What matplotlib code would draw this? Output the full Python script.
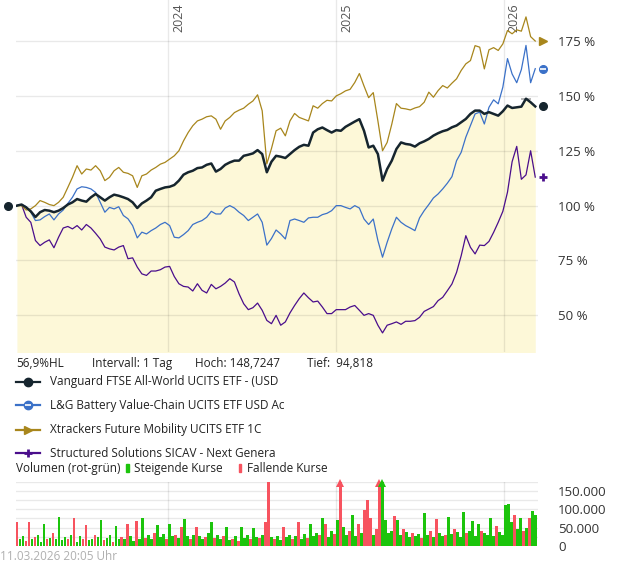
import numpy as np
import pandas as pd
import matplotlib
matplotlib.use('Agg')
import matplotlib.pyplot as plt
from matplotlib.lines import Line2D
from matplotlib.patches import Rectangle
from matplotlib.transforms import offset_copy

plt.rcParams['font.family'] = ['Open Sans', 'DejaVu Sans']

# performance in % (every ~10 days)
vanguard = [
    100, 100.5, 99.2, 97.4, 94.818, 97, 98, 97.7, 97, 97.7,
    98.9, 100.5, 101.5, 103, 102.3, 101.8, 103.8, 105.3, 103.8, 102.3,
    103.8, 105, 104.5, 103.8, 103, 101.5, 98.9, 101, 102.3, 103.8,
    106.8, 107.6, 108.3, 108.6, 109.4, 111.4, 114.1, 115.2, 115.9, 117.1,
    117.4, 118.6, 119.2, 115.5, 116.7, 118.6, 119.7, 120.5, 120.5, 122.7,
    123.2, 123.8, 125.3, 123.5, 115.2, 120, 122.7, 122.3, 121.7, 123.5,
    125.3, 126.8, 127.7, 127.3, 133.3, 134.8, 135.6, 134.4, 133.3, 134.4,
    134.1, 135.9, 137.1, 138.3, 139.4, 134.1, 126.5, 127.3, 123.5, 111.4,
    116.7, 120.5, 125.8, 128.8, 128.1, 127.8, 126.9, 128.4, 129.3, 130.4,
    131.9, 133, 133.9, 134.5, 135.7, 136.5, 138, 139.5, 141.8, 143.3,
    143.3, 141.8, 142.6, 141.8, 141, 143, 145.6, 144.5, 144.8, 145.1,
    148.7247, 147.1, 145.2]
battery = [
    100, 100.5, 99.5, 97, 93.2, 93.5, 95, 96.2, 93.5, 96.2,
    98, 101, 103.8, 107.6, 108.6, 108.3, 107.6, 106, 101.5, 97,
    99.2, 98.5, 99.5, 95.5, 94, 90.9, 85.3, 87.9, 87.1, 88.6,
    89.8, 91.4, 92.4, 90.9, 85.6, 85.3, 86.8, 88.6, 91.4, 92.4,
    93.2, 94.7, 97.4, 96.2, 96.2, 98.9, 100, 98.9, 97, 95.5,
    93.2, 94.7, 96.2, 92.4, 82, 85, 88.9, 87.1, 84.8, 93.2,
    93.9, 93.2, 92.4, 94.4, 94.7, 94.7, 95.9, 96.5, 97.7, 100,
    100, 99.2, 98.5, 100, 98.9, 93.9, 91.4, 93.9, 84.1, 76.5,
    83.3, 89.4, 94.7, 92.4, 90.9, 89.8, 88.6, 94.4, 97.7, 100.5,
    103.5, 105.3, 107.6, 110.2, 113.2, 120.5, 124.3, 131.2, 136.5, 141.8,
    142.6, 137.2, 144.8, 148.2, 146.4, 154, 167, 160, 156, 162,
    173, 156, 162.4]
mobility = [
    100, 100, 98, 98.5, 100, 102.3, 101.5, 100.5, 100, 101.5,
    103.8, 108.3, 112.9, 118.2, 114.4, 116.7, 116.2, 118.2, 115.9, 111.4,
    112.9, 115.9, 117.4, 115.2, 114.7, 113.6, 108.3, 113.6, 114.4, 116.2,
    117.4, 118.9, 119.7, 121.2, 122.7, 125, 129.5, 133.3, 136.4, 138.6,
    139.4, 140.5, 140.9, 139.4, 134.8, 138.6, 140.2, 142.4, 143.5, 144.4,
    146.2, 147.7, 150.5, 143.2, 119, 126, 134.1, 135.3, 131.8, 138.6,
    142, 140.2, 139.4, 138.6, 145.5, 144.4, 146.5, 148, 147.7, 150,
    151, 152.3, 153, 156.1, 160.2, 154.5, 149.2, 151.5, 138.6, 125,
    128.8, 137.1, 146.5, 144.4, 144.1, 143.6, 144.5, 145.1, 147.1, 151.7,
    149.4, 152.4, 154.7, 153.6, 155.8, 157.8, 161.6, 164.6, 166.1, 172.9,
    172.2, 162.3, 171, 172, 170.7, 173.7, 179.8, 178.3, 180.1, 179.5,
    186, 177, 175]
nextgen = [
    100, 100.5, 94.7, 92.4, 84.1, 81.8, 83.3, 84.4, 80.8, 85.6,
    89.8, 90.5, 89.4, 90.9, 88.9, 91.4, 89.8, 87.4, 84.8, 81.1,
    80.3, 79.8, 81.1, 81.8, 75.8, 76.2, 72, 68.9, 68.2, 70.2,
    70.2, 70.8, 72, 72.3, 67.7, 64.4, 63.2, 62.9, 61.1, 64.4,
    61.4, 60.2, 64.1, 62.1, 63.2, 64.7, 66.7, 65.2, 59.8, 55.3,
    52.6, 53.5, 55.6, 52.3, 47.7, 46.2, 50, 45.5, 47, 51.1,
    54.5, 57.6, 60.2, 58, 56.1, 56.5, 53.8, 50.8, 50.8, 52.6,
    52.6, 52.6, 53.8, 54.5, 52.3, 50, 50.8, 50, 45.5, 42,
    45.5, 46.2, 47, 45.9, 47.3, 47.3, 47.6, 49.1, 51.8, 52.9,
    54, 56.7, 58.2, 61.2, 64.3, 69.6, 77.2, 86.3, 81, 78,
    82, 81.8, 83.7, 87.8, 92.4, 97.4, 106.1, 120, 127, 112,
    114, 125, 113]

# volume in thousands, positive = rising (green), negative = falling (red)
volume = [
    -66, 20, 28, -14, -66, 18, -25, 30, 12, 60, -20, 22, -35, 18, 79, 15, 25, -20, 30, -75,
    12, 28, -18, -57, 15, 20, -30, 24, 71, -16, 22, 30, -12, 55, 18, -25, 20, -60, 28, 14,
    -68, 20, 75, -22, 30, 18, -34, 57, 24, 32, -20, 59, 26, -30, 22, -51, 74, 28, -18, 30,
    -51, 26, 20, -24, 35, 65, -22, 30, 18, -28, 52, 15, -20, 26, -14, 52, 22, 30, -18, 48,
    25, -22, 30, -65, -175, 25, -20, 28, 15, -52, 24, 30, -18, 26, -65, 20, 32, -22, 60, 28,
    35, -30, 77, -59, 25, 40, -32, 71, -250, 52, 30, -40, 83, 28, -59, 35, -99, -124, -77, 30,
    -45, -250, 250, 71, 35, 40, -82, 71, 30, -45, 38, 25, -35, 28, 32, -22, 90, 30, -40, 25,
    -74, 35, 28, -30, 79, 32, -45, 38, 24, 93, -35, 40, 69, 28, 59, -40, 35, 30, 75, 28,
    -55, 38, 30, 111, 113, 66, -85, 45, 77, -40, 50, -76, 94, 85]

names = ['Vanguard FTSE All-World UCITS ETF - (USD',
         'L&G Battery Value-Chain UCITS ETF USD Ac',
         'Xtrackers Future Mobility UCITS ETF 1C',
         'Structured Solutions SICAV - Next Genera']
colors = ['#16252e', '#3b71c8', '#a8861c', '#4a0e8c']

start = pd.Timestamp('2023-02-06')
end = pd.Timestamp('2026-03-11')
dates = pd.date_range(start, end, periods=len(vanguard))
vdates = pd.date_range(start, end, periods=len(volume))
xlim = (start - pd.Timedelta(days=2), end + pd.Timedelta(days=6))
years = [pd.Timestamp('2024-01-01'), pd.Timestamp('2025-01-01'), pd.Timestamp('2026-01-01')]

W, H = 620, 563
def fp(x, y):
    return x / W, 1 - y / H

fig = plt.figure(figsize=(6.2, 5.63), dpi=100)
ax = fig.add_axes([16 / W, 1 - 352 / H, 522 / W, 352 / H])
axv = fig.add_axes([16 / W, 1 - 546 / H, 522 / W, 64.5 / H])

grid_c = (0, 0, 0, 0.085)

# main chart
ax.fill_between(dates, vanguard, 0, color='#fdf8d8', lw=0, zorder=1)
for v in [50, 75, 100, 125, 150, 175]:
    ax.axhline(v, color=grid_c, lw=1, zorder=2)
for y in years:
    ax.axvline(y, color=grid_c, lw=1, zorder=2)
    ax.annotate(str(y.year), xy=(y, 1), xycoords=('data', 'axes fraction'),
                xytext=(4, -3), textcoords='offset pixels', rotation=90,
                ha='left', va='top', fontsize=9, color='#555555')

ax.plot(dates, nextgen, color=colors[3], lw=0.9, zorder=3)
ax.plot(dates, mobility, color=colors[2], lw=0.9, zorder=3)
ax.plot(dates, battery, color=colors[1], lw=0.9, zorder=3)
ax.plot(dates, vanguard, color=colors[0], lw=1.8, zorder=4)

imax = int(np.argmax(vanguard))
ax.hlines(vanguard[imax], dates[imax] - pd.Timedelta(days=11), dates[imax] + pd.Timedelta(days=11),
          color='#aaaaaa', lw=1.2, zorder=3)

tr_end = offset_copy(ax.transData, fig=fig, x=8, y=0, units='dots')
tr_start = offset_copy(ax.transData, fig=fig, x=-9, y=0, units='dots')
ax.plot(dates[0], vanguard[0], 'o', color=colors[0], ms=5.5, transform=tr_start, clip_on=False)
ax.plot(dates[-1], vanguard[-1], 'o', color=colors[0], ms=5.5, transform=tr_end, clip_on=False)
ax.plot(dates[-1], battery[-1], 'o', color=colors[1], ms=5.5, transform=tr_end, clip_on=False)
ax.plot(dates[-1], battery[-1], '_', color='white', ms=4.5, mew=1.2, transform=tr_end, clip_on=False)
ax.plot(dates[-1], mobility[-1], '>', color=colors[2], ms=6, transform=tr_end, clip_on=False)
ax.plot(dates[-1], nextgen[-1], '+', color=colors[3], ms=6, mew=2, transform=tr_end, clip_on=False)

ax.set_xlim(xlim)
ax.set_ylim(33.3, 193.7)
ax.set_xticks([])
ax.yaxis.tick_right()
ax.set_yticks([50, 75, 100, 125, 150, 175])
ax.set_yticklabels(['%d %%' % v for v in [50, 75, 100, 125, 150, 175]])
ax.tick_params(axis='y', length=0, pad=14.5, labelsize=9.5, labelcolor='#333333')
for s in ax.spines.values():
    s.set_visible(False)

# volume chart
for v in range(25000, 175001, 25000):
    axv.axhline(v, color=grid_c, lw=1, zorder=1)
for y in years:
    axv.axvline(y, color=grid_c, lw=1, zorder=1)
vmax = 175000
heights = [min(abs(v) * 1000, vmax) for v in volume]
vcols = ['#1cc40c' if v > 0 else '#f7535f' for v in volume]
axv.bar(vdates, heights, width=5.6, color=vcols, lw=0, zorder=2)
for d, v, c in zip(vdates, volume, vcols):
    if abs(v) * 1000 > vmax:
        axv.plot(d, 170000, '^', color=c, ms=6, mew=0, zorder=3, clip_on=False)
axv.set_xlim(xlim)
axv.set_ylim(0, vmax)
axv.set_xticks([])
axv.yaxis.tick_right()
axv.set_yticks([0, 50000, 100000, 150000])
axv.set_yticklabels(['0', '50.000', '100.000', '150.000'])
axv.tick_params(axis='y', length=0, pad=14.5, labelsize=9.5, labelcolor='#333333')
for s in axv.spines.values():
    s.set_visible(False)

# header and legend
tc = '#222222'
fs = 8.5
for x, t in [(16, '56,9%HL'), (91.7, 'Intervall: 1 Tag'), (195, 'Hoch: 148,7247'), (306.7, 'Tief:  94,818')]:
    fig.text(*fp(x, 363.5), t, fontsize=fs, color=tc, va='center', ha='left')

markers = [('o', {}), ('o', {}), ('>', {}), ('+', {'mew': 2})]
rows = [381.7, 405, 430, 453.3]
for i, yy in enumerate(rows):
    x0, y0 = fp(16, yy)
    x1, _ = fp(40, yy)
    xm, _ = fp(28, yy)
    fig.add_artist(Line2D([x0, x1], [y0, y0], color=colors[i], lw=1.6, transform=fig.transFigure))
    m, kw = markers[i]
    fig.add_artist(Line2D([xm], [y0], marker=m, ms=6, color=colors[i], lw=0, transform=fig.transFigure, **kw))
    if i == 1:
        fig.add_artist(Line2D([xm], [y0], marker='_', ms=4.5, mew=1.2, color='white', lw=0, transform=fig.transFigure))
    fig.text(*fp(50, yy), names[i], fontsize=fs, color=tc, va='center', ha='left')

fig.text(*fp(16, 468.5), 'Volumen (rot-grün)', fontsize=fs, color=tc, va='center', ha='left')
fig.add_artist(Rectangle(fp(126, 472), 2.7 / W, 8 / H, color='#1cc40c', transform=fig.transFigure))
fig.text(*fp(134.3, 468.5), 'Steigende Kurse', fontsize=fs, color=tc, va='center', ha='left')
fig.add_artist(Rectangle(fp(238.7, 472), 2.7 / W, 8 / H, color='#f7535f', transform=fig.transFigure))
fig.text(*fp(246.7, 468.5), 'Fallende Kurse', fontsize=fs, color=tc, va='center', ha='left')

fig.text(*fp(0, 557), '11.03.2026 20:05 Uhr', fontsize=fs, color='#b0b0b0', va='center', ha='left')

fig.savefig('out.png', dpi=100)
